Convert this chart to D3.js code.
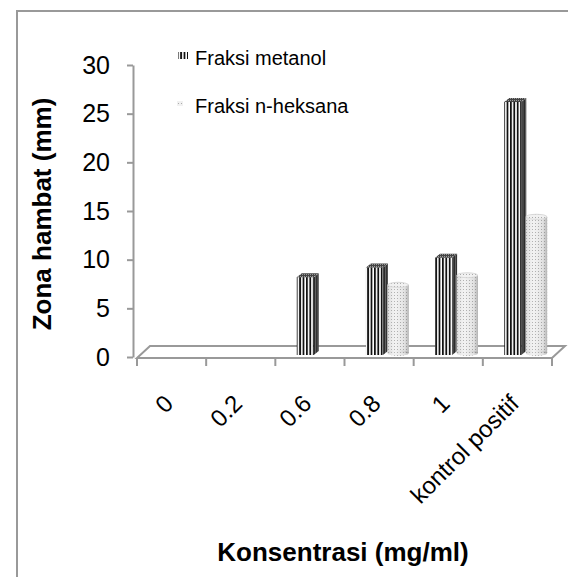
<!DOCTYPE html>
<html>
<head>
<meta charset="utf-8">
<script src="https://cdn.jsdelivr.net/npm/d3@7"></script>
<style>
    body { margin: 0; background: #fff; }
    text { font-family: "Liberation Sans", Arial, sans-serif; }
</style>
</head>
<body>
<div id="chart"></div>
<script>
// data
var categories = ["0", "0.2", "0.6", "0.8", "1", "kontrol positif"];
var series = ["Fraksi metanol", "Fraksi n-heksana"];
var metanol = [0, 0, 8, 9, 10, 26];
var heksana = [0, 0, 0, 7, 8, 14];
var yTicks = [0, 5, 10, 15, 20, 25, 30];

var width = 568, height = 577;
var grey = "#999";

var svg = d3.select("#chart").append("svg")
    .attr("width", width)
    .attr("height", height);

var defs = svg.append("defs");

// vertical stripes for the metanol front face
var p1 = defs.append("pattern").attr("id", "stripes")
    .attr("patternUnits", "userSpaceOnUse").attr("width", 3.4).attr("height", 4);
p1.append("rect").attr("width", 3.4).attr("height", 4).attr("fill", "#fff");
p1.append("rect").attr("width", 1.8).attr("height", 4).attr("fill", "#111");

// darker stripes for the side face
var p2 = defs.append("pattern").attr("id", "stripesDark")
    .attr("patternUnits", "userSpaceOnUse").attr("width", 2.5).attr("height", 4);
p2.append("rect").attr("width", 2.5).attr("height", 4).attr("fill", "#2a2a2a");
p2.append("rect").attr("width", 1).attr("height", 4).attr("fill", "#666");

// hatch for the top face
var p3 = defs.append("pattern").attr("id", "hatch")
    .attr("patternUnits", "userSpaceOnUse").attr("width", 2).attr("height", 2);
p3.append("rect").attr("width", 2).attr("height", 2).attr("fill", "#444");
p3.append("rect").attr("width", 1).attr("height", 1).attr("fill", "#999");

// dots for the n-heksana cylinders
var p4 = defs.append("pattern").attr("id", "dots")
    .attr("patternUnits", "userSpaceOnUse").attr("width", 3).attr("height", 3);
p4.append("rect").attr("width", 3).attr("height", 3).attr("fill", "#f1f1f1");
p4.append("rect").attr("x", 1).attr("y", 1).attr("width", 1).attr("height", 1).attr("fill", "#aaa");

var shade = defs.append("linearGradient").attr("id", "shade")
    .attr("x1", "0%").attr("x2", "100%");
shade.append("stop").attr("offset", "0%").attr("stop-color", "#888").attr("stop-opacity", 0.25);
shade.append("stop").attr("offset", "35%").attr("stop-color", "#fff").attr("stop-opacity", 0.1);
shade.append("stop").attr("offset", "80%").attr("stop-color", "#888").attr("stop-opacity", 0.15);
shade.append("stop").attr("offset", "100%").attr("stop-color", "#666").attr("stop-opacity", 0.45);

// chart border (only left and top visible)
svg.append("rect")
    .attr("x", 17).attr("y", 11)
    .attr("width", 700).attr("height", 700)
    .attr("fill", "none")
    .attr("stroke", grey)
    .attr("stroke-width", 2);

var x0 = d3.scaleBand()
    .domain(categories)
    .range([137, 552]);

var x1 = d3.scaleBand()
    .domain(series)
    .range([x0.bandwidth() * 0.31, x0.bandwidth() * 0.93]);

var y = d3.scaleLinear()
    .domain([0, 30])
    .range([357, 65]);

var floorFront = 358, depthX = 13, depthY = 12;

// floor
svg.append("path")
    .attr("d", d3.line()([
        [x0.range()[0], floorFront],
        [x0.range()[1], floorFront],
        [x0.range()[1] + depthX, floorFront - depthY],
        [x0.range()[0] + depthX, floorFront - depthY]
    ]) + "Z")
    .attr("fill", "#fff")
    .attr("stroke", grey)
    .attr("stroke-width", 2);

// category ticks under the floor
var bounds = categories.map(function (d) { return x0(d); }).concat([x0.range()[1]]);
svg.selectAll(".xtick")
    .data(bounds)
    .enter().append("line")
    .attr("class", "xtick")
    .attr("x1", function (d) { return d; })
    .attr("x2", function (d) { return d; })
    .attr("y1", floorFront)
    .attr("y2", floorFront + 8)
    .attr("stroke", grey)
    .attr("stroke-width", 2);

// y axis
var yAxis = d3.axisLeft(y)
    .tickValues(yTicks)
    .tickSize(6)
    .tickPadding(17)
    .tickSizeOuter(0);

var yG = svg.append("g")
    .attr("transform", "translate(133,0)")
    .call(yAxis);
yG.select(".domain").attr("stroke", grey).attr("stroke-width", 2);
yG.selectAll(".tick line").attr("stroke", grey).attr("stroke-width", 2);
yG.selectAll(".tick text")
    .style("font-size", "25px")
    .attr("fill", "#000")
    .style("font-family", '"Liberation Sans", Arial, sans-serif');

var front = 17, side = 5, lift = 4;

// metanol: square columns
var mG = svg.append("g");
metanol.forEach(function (v, i) {
    if (v <= 0) return;
    var xa = x0(categories[i]) + x1(series[0]);
    var top = y(v) - 2, bot = y(0) - 2;
    mG.append("path")
        .attr("d", d3.line()([[xa + front, top], [xa + front + side, top - lift],
            [xa + front + side, bot - lift], [xa + front, bot]]) + "Z")
        .attr("fill", "url(#stripesDark)");
    mG.append("rect")
        .attr("x", xa).attr("y", top)
        .attr("width", front).attr("height", bot - top)
        .attr("fill", "url(#stripes)");
    mG.append("path")
        .attr("d", d3.line()([[xa, top], [xa + side, top - lift],
            [xa + front + side, top - lift], [xa + front, top]]) + "Z")
        .attr("fill", "url(#hatch)");
});

// n-heksana: cylinders
var hG = svg.append("g");
heksana.forEach(function (v, i) {
    if (v <= 0) return;
    var w = x1.bandwidth();
    var xb = x0(categories[i]) + x1(series[1]);
    var cx = xb + w / 2, ry = 3;
    var top = y(v) - 4, bot = y(0) - 4;
    hG.append("ellipse")
        .attr("cx", cx).attr("cy", bot).attr("rx", w / 2).attr("ry", ry)
        .attr("fill", "url(#dots)");
    hG.append("rect")
        .attr("x", xb).attr("y", top).attr("width", w).attr("height", bot - top)
        .attr("fill", "url(#dots)");
    hG.append("rect")
        .attr("x", xb).attr("y", top).attr("width", w).attr("height", bot - top)
        .attr("fill", "url(#shade)");
    hG.append("ellipse")
        .attr("cx", cx).attr("cy", bot).attr("rx", w / 2).attr("ry", ry)
        .attr("fill", "url(#shade)");
    hG.append("ellipse")
        .attr("cx", cx).attr("cy", top).attr("rx", w / 2).attr("ry", ry)
        .attr("fill", "#d8d8d8");
    hG.append("ellipse")
        .attr("cx", cx).attr("cy", top).attr("rx", w / 2 - 1).attr("ry", ry - 1)
        .attr("fill", "url(#dots)");
});

// category labels, rotated
svg.selectAll(".xlab")
    .data(categories)
    .enter().append("text")
    .attr("class", "xlab")
    .attr("text-anchor", "end")
    .attr("transform", function (d) {
        return "translate(" + (x0(d) + x0.bandwidth() / 2 + 3) + ",405) rotate(-45)";
    })
    .style("font-size", "24px")
    .text(function (d) { return d; });

// legend
var legend = svg.append("g");
legend.append("rect")
    .attr("x", 178).attr("y", 52).attr("width", 10).attr("height", 7)
    .attr("fill", "url(#stripes)");
legend.append("rect")
    .attr("x", 177).attr("y", 101).attr("width", 6).attr("height", 5)
    .attr("fill", "url(#dots)");
legend.selectAll(".leg")
    .data(series)
    .enter().append("text")
    .attr("class", "leg")
    .attr("x", 195)
    .attr("y", function (d, i) { return 65 + i * 48; })
    .style("font-size", "20px")
    .text(function (d) { return d; });

// axis titles
svg.append("text")
    .attr("x", 343).attr("y", 561)
    .attr("text-anchor", "middle")
    .style("font-size", "26px")
    .style("font-weight", "bold")
    .text("Konsentrasi (mg/ml)");

svg.append("text")
    .attr("transform", "translate(51,214) rotate(-90)")
    .attr("text-anchor", "middle")
    .style("font-size", "26px")
    .style("font-weight", "bold")
    .text("Zona hambat (mm)");
</script>
</body>
</html>
